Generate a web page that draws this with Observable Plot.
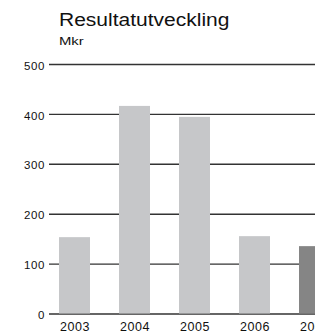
<!DOCTYPE html>
<html><head><meta charset="utf-8">
<script src="https://cdn.jsdelivr.net/npm/d3@7"></script>
<script src="https://cdn.jsdelivr.net/npm/@observablehq/plot@0.6"></script>
<style>
html,body{margin:0;padding:0;background:#fff;overflow:hidden;}
#wrap{width:315px;font-family:"Liberation Sans",Arial,Helvetica,sans-serif;color:#111;}
#head{position:relative;height:50px;}
#title{position:absolute;left:59px;top:10.4px;font-size:17.5px;line-height:20px;transform:scaleX(1.2);transform-origin:0 0;white-space:nowrap;}
#sub{position:absolute;left:59px;top:35.2px;font-size:11px;line-height:12px;transform:scaleX(1.35);transform-origin:0 0;white-space:nowrap;}
.ch{overflow:hidden;font-family:"Liberation Sans",Arial,Helvetica,sans-serif;}
.ch g[aria-label="y-axis tick label"]{letter-spacing:0.6px;}
.ch g[aria-label="x-axis tick label"]{letter-spacing:0.6px;}
</style></head>
<body>
<div id="wrap">
  <div id="head"><div id="title">Resultatutveckling</div><div id="sub">Mkr</div></div>
  <div id="chart"></div>
</div>
<script>
const years = ["2003", "2004", "2005", "2006", "2007"];
const values = [153, 416, 394, 155, 135];
const yTicks = [0, 100, 200, 300, 400, 500];
const highlightYear = "2007";

const data = years.map((year, i) => ({year, value: values[i]}));

const chart = Plot.plot({
  className: "ch",
  width: 315,
  height: 284,
  marginLeft: 49,
  marginRight: 0,
  marginTop: 14,
  marginBottom: 20.5,
  x: {type: "band", domain: years, range: [49, 338.9], paddingInner: 0.488, paddingOuter: 0.137},
  y: {domain: [0, 500]},
  marks: [
    Plot.ruleY(yTicks, {stroke: "#333", strokeWidth: 1.4}),
    Plot.barY(data, {x: "year", y: "value", fill: d => d.year === highlightYear ? "#858585" : "#c6c7c9"}),
    Plot.axisY(yTicks, {tickSize: 0, tickPadding: 4.5, fontSize: 11.5, fill: "#111", dy: 1.5, label: null}),
    Plot.axisX({tickSize: 0, tickPadding: 8, fontSize: 12.5, fill: "#111", label: null})
  ]
});
document.getElementById("chart").appendChild(chart);
</script>
</body></html>
